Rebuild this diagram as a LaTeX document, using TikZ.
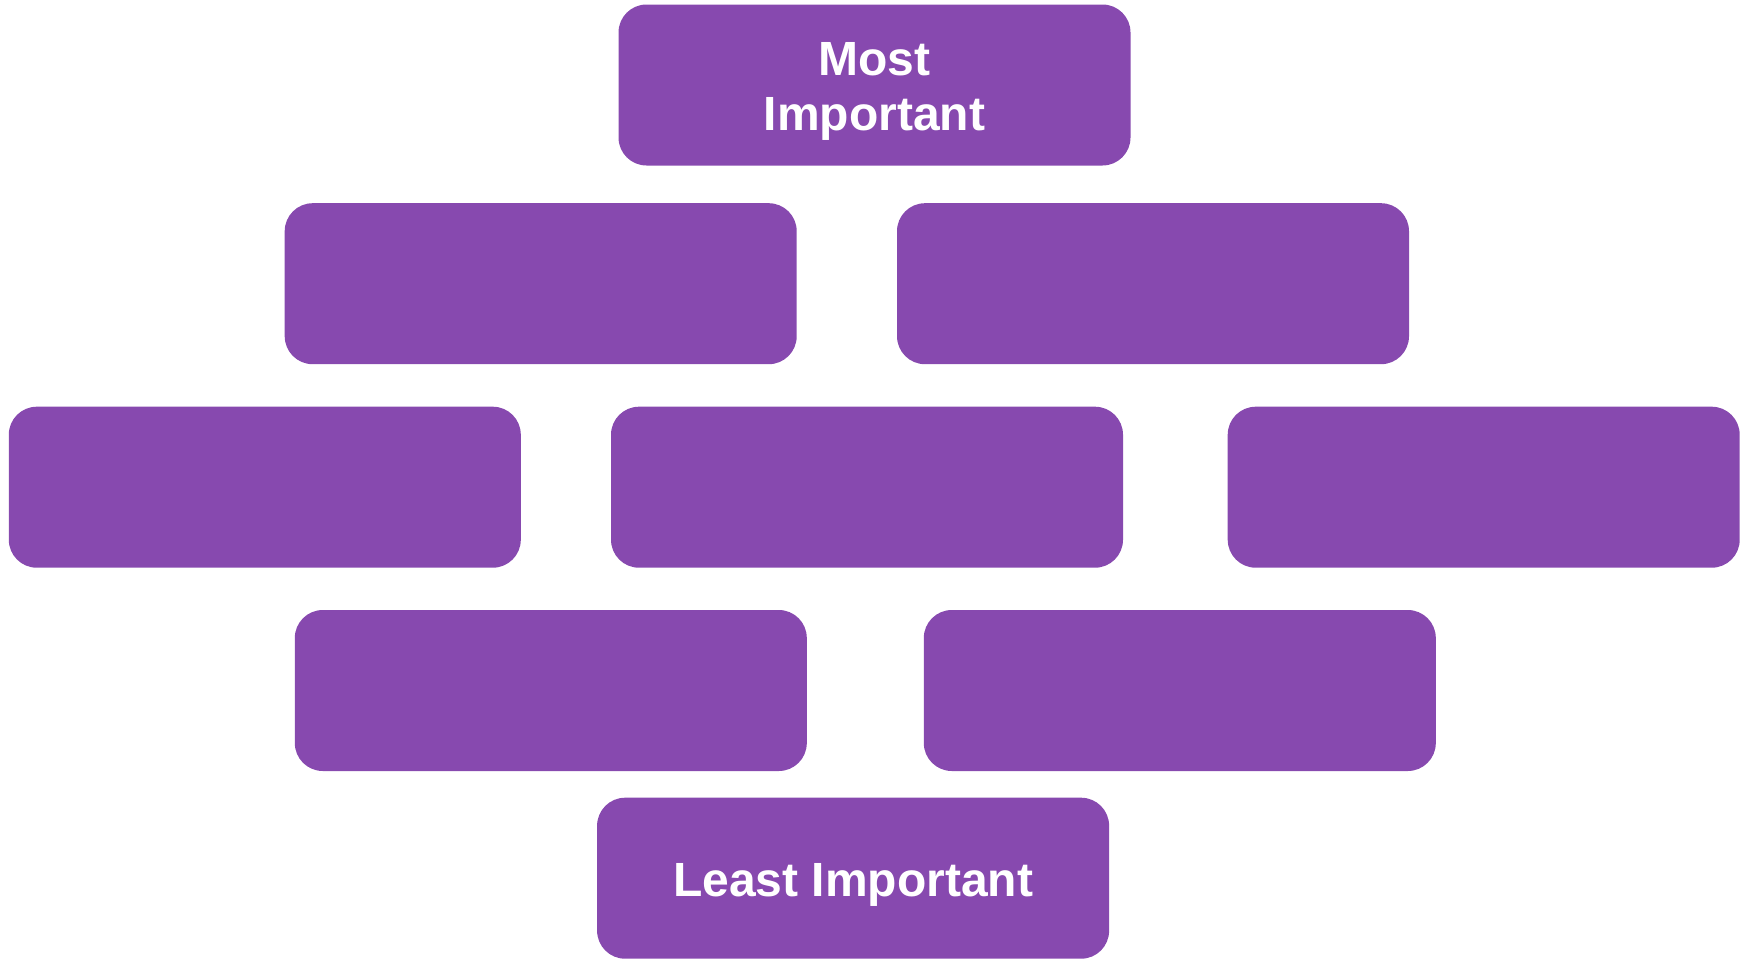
\documentclass[tikz,border=0pt]{standalone}
\usepackage{fontspec}
\setmainfont{Liberation Sans}
\definecolor{boxpurple}{HTML}{8749AF}
\begin{document}
\begin{tikzpicture}[x=1pt,y=-1pt,
  pbox/.style={rectangle, rounded corners=28pt, fill=boxpurple, draw=none,
    minimum width=512pt, minimum height=161pt, inner sep=0pt},
  ptext/.style={inner sep=0pt, text=white, align=center,
    font=\bfseries\fontsize{48}{55}\selectfont}]
\useasboundingbox (0,0) rectangle (1752,959);
\node[pbox] (top) at (874.5,85) {};
\node[pbox] (r2a) at (540.7,283.7) {};
\node[pbox] (r2b) at (1153,283.7) {};
\node[pbox] (r3a) at (264.8,487.2) {};
\node[pbox] (r3b) at (867,487.2) {};
\node[pbox] (r3c) at (1483.7,487.2) {};
\node[pbox] (r4a) at (550.8,690.5) {};
\node[pbox] (r4b) at (1179.8,690.5) {};
\node[pbox] (bottom) at (853.1,878.2) {};
\node[ptext] (toptext) at ([yshift=-6.5pt]top.center) {Most\\Important};
\node[ptext] (bottomtext) at ([yshift=-6.5pt]bottom.center) {Least Important};
\end{tikzpicture}
\end{document}
